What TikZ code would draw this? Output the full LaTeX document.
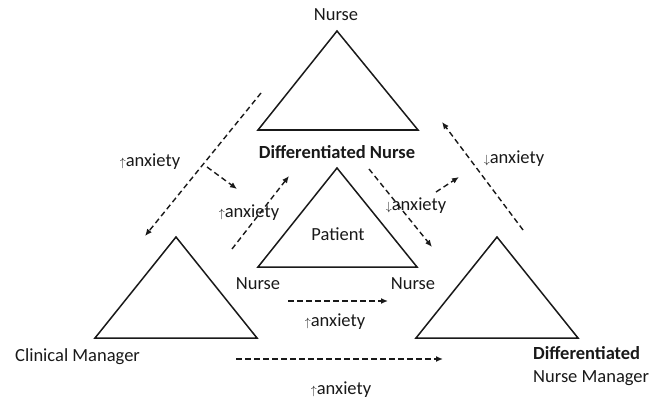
\documentclass[tikz,border=0pt]{standalone}
\usepackage{fontspec}
\setmainfont{Carlito}
\usetikzlibrary{arrows.meta}
\newcommand{\upar}{{\fontsize{13}{13}\selectfont\raisebox{0.5pt}{$\uparrow$}}}
\newcommand{\dnar}{{\fontsize{13}{13}\selectfont\raisebox{0.5pt}{$\downarrow$}}}
\begin{document}
\begin{tikzpicture}[x=1pt,y=-1pt,
    tri/.style={line width=1.5pt,draw=black!90},
    flow/.style={line width=1.4pt,draw=black!90,dash pattern=on 5.5pt off 3.5pt,-{Latex[length=7pt,width=6pt]}},
    lbl/.style={inner sep=0pt,text=black!90,font=\fontsize{18.5}{23}\selectfont}]
    \useasboundingbox (0,0) rectangle (650,401);

    %triangles
    \draw[tri] (337,31) -- (418,130) -- (258,130) -- cycle;
    \draw[tri] (337,168) -- (417,267) -- (258,267) -- cycle;
    \draw[tri] (176,237) -- (257,338) -- (95,338) -- cycle;
    \draw[tri] (497,237) -- (578,338) -- (416,338) -- cycle;

    %names
    \node[lbl] (NurseTop) at (336,15) {Nurse};
    \node[lbl,font=\fontsize{18.5}{23}\selectfont\bfseries] (DiffNurse) at (337,152) {Differentiated Nurse};
    \node[lbl] (Patient) at (338,234) {Patient};
    \node[lbl] (NurseL) at (258,284) {Nurse};
    \node[lbl] (NurseR) at (413,284) {Nurse};
    \node[lbl,anchor=west] (ClinMgr) at (15,357) {Clinical Manager};
    \node[lbl,anchor=west,align=left] (DiffMgr) at (533,366) {\textbf{Differentiated}\\Nurse Manager};

    %anxiety labels
    \node[lbl] (AnxL) at (150,162) {\upar anxiety};
    \node[lbl] (AnxML) at (249,213) {\upar anxiety};
    \node[lbl] (AnxMR) at (416,206) {\dnar anxiety};
    \node[lbl] (AnxR) at (514,159) {\dnar anxiety};
    \node[lbl] (AnxMid) at (335,322) {\upar anxiety};
    \node[lbl] (AnxBot) at (341,390) {\upar anxiety};

    %arrow ends
    \coordinate (LongLs) at (261,93);
    \coordinate (LongLe) at (145,236);
    \coordinate (ShortLs) at (207,167);
    \coordinate (ShortLe) at (237,189);
    \coordinate (UpLs) at (232,249);
    \coordinate (UpLe) at (289,176);
    \coordinate (DnRs) at (369,169);
    \coordinate (DnRe) at (432,247);
    \coordinate (ShortRs) at (436,192);
    \coordinate (ShortRe) at (459,177);
    \coordinate (LongRs) at (523,230);
    \coordinate (LongRe) at (442,122);
    \coordinate (MidS) at (288,301);
    \coordinate (MidE) at (388,301);
    \coordinate (BotS) at (236,359);
    \coordinate (BotE) at (443,359);

    %dashed arrows
    \draw[flow] (LongLs) -- (LongLe);
    \draw[flow] (ShortLs) -- (ShortLe);
    \draw[flow] (UpLs) -- (UpLe);
    \draw[flow] (DnRs) -- (DnRe);
    \draw[flow] (ShortRs) -- (ShortRe);
    \draw[flow] (LongRs) -- (LongRe);
    \draw[flow] (MidS) -- (MidE);
    \draw[flow] (BotS) -- (BotE);
\end{tikzpicture}
\end{document}
